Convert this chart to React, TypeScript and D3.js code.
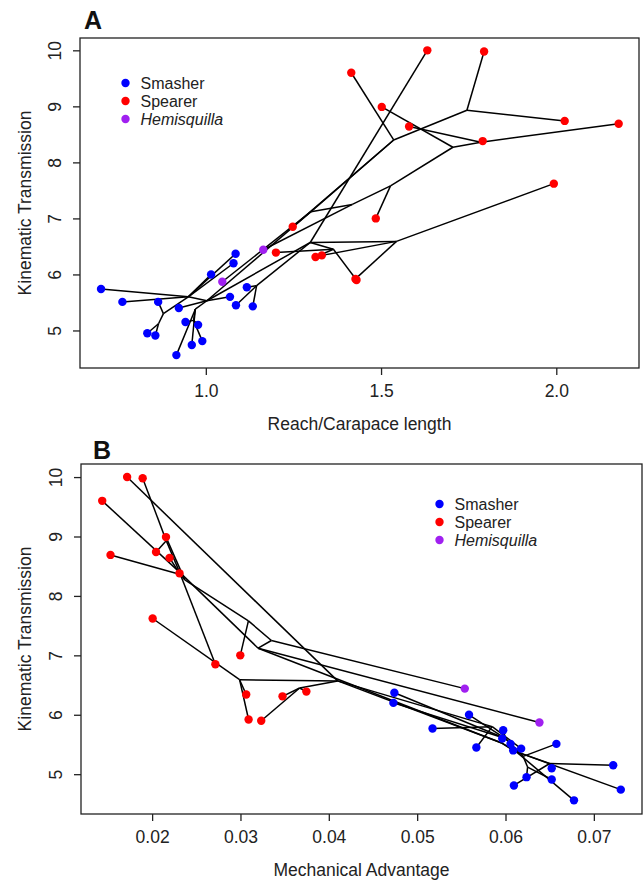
import React, { useEffect, useRef } from "react";
import * as d3 from "d3";

// tip values (reach / mechanical advantage / kinematic transmission)
const spearerReach = [1.632, 1.794, 1.415, 1.502, 2.024, 2.178, 1.58, 1.79, 1.993, 1.485, 1.248, 1.2, 1.331, 1.313, 1.427, 1.43];
const spearerMA = [0.01717, 0.01893, 0.01435, 0.02157, 0.02044, 0.01529, 0.02197, 0.0231, 0.02006, 0.02998, 0.02716, 0.03746, 0.03065, 0.03476, 0.03092, 0.03235];
const spearerKT = [10.0, 9.98, 9.6, 8.99, 8.74, 8.69, 8.64, 8.38, 7.62, 7.0, 6.85, 6.39, 6.34, 6.31, 5.92, 5.9];

const smasherReach = [1.085, 1.079, 1.015, 1.117, 0.701, 1.069, 0.762, 0.864, 1.086, 1.134, 0.923, 0.942, 0.978, 0.833, 0.856, 0.99, 0.96, 0.916];
const smasherMA = [0.04742, 0.04731, 0.05587, 0.05174, 0.05974, 0.05963, 0.06057, 0.06576, 0.0567, 0.06177, 0.06087, 0.07219, 0.06523, 0.06238, 0.06523, 0.06095, 0.07305, 0.06775];
const smasherKT = [6.37, 6.2, 6.0, 5.77, 5.74, 5.6, 5.51, 5.51, 5.45, 5.43, 5.4, 5.15, 5.1, 4.95, 4.91, 4.81, 4.74, 4.56];

const hemiReach = [1.047, 1.164];
const hemiMA = [0.06384, 0.05539];
const hemiKT = [5.87, 6.44];

// ancestral nodes (estimated from where branches meet)
const nodeIds = ["Nb", "Na", "Nd", "Nc", "Ne", "Q", "Q2", "X", "Y", "Z", "SM0", "A1", "A2", "A3", "B1", "C1", "C2"];
const nodeReach = [1.745, 1.536, 1.785, 1.705, 1.527, 1.418, 1.3, 1.298, 1.544, 1.364, 1.003, 0.95, 0.879, 0.865, 1.145, 0.965, 0.97];
const nodeMA = [0.0216, 0.0231, 0.0232, 0.0237, 0.0309, 0.0335, 0.032, 0.041, 0.0299, 0.0367, 0.0595, 0.06, 0.062, 0.0625, 0.0585, 0.065, 0.0612];
const nodeKT = [8.93, 8.4, 8.36, 8.27, 7.58, 7.25, 7.12, 6.57, 6.59, 6.45, 5.53, 5.6, 5.3, 5.12, 5.8, 5.18, 5.38];

const edges = [
  ["Nb", "S2"], ["Nb", "S5"],
  ["Na", "S3"], ["Na", "Nb"], ["Na", "S11"],
  ["Nd", "S6"], ["Nd", "S7"], ["Nd", "S8"],
  ["Nc", "S4"], ["Nc", "Nd"],
  ["Ne", "S10"], ["Ne", "Nc"],
  ["Q", "Ne"], ["Q", "H2"],
  ["Q2", "Q"], ["Q2", "Na"], ["Q2", "H1"], ["Q2", "SM0"],
  ["X", "S1"], ["X", "Y"], ["X", "Z"], ["X", "SM0"], ["X", "B1"],
  ["Y", "S9"], ["Y", "S13"], ["Y", "S15"],
  ["Z", "S12"], ["Z", "S14"], ["Z", "S16"],
  ["SM0", "A1"], ["SM0", "M6"], ["SM0", "M11"], ["SM0", "C2"],
  ["A1", "M1"], ["A1", "M2"], ["A1", "M3"], ["A1", "M5"], ["A1", "M7"], ["A1", "A2"],
  ["A2", "M8"], ["A2", "A3"],
  ["A3", "M14"], ["A3", "M15"],
  ["B1", "M4"], ["B1", "M9"], ["B1", "M10"],
  ["C2", "C1"], ["C2", "M17"], ["C2", "M18"],
  ["C1", "M12"], ["C1", "M13"], ["C1", "M16"],
];

const groups = ["Smasher", "Spearer", "Hemisquilla"];
const colors = { Smasher: "#0000ff", Spearer: "#ff0000", Hemisquilla: "#a020f0" };

const reachDomain = [0.641, 2.236];
const maDomain = [0.01195, 0.07545];
const ktDomain = [4.33, 10.22];
const reachTicks = [1.0, 1.5, 2.0];
const maTicks = [0.02, 0.03, 0.04, 0.05, 0.06, 0.07];
const ktTicks = [5, 6, 7, 8, 9, 10];

type P = { id: string; group: string; reach: number; ma: number; kt: number };

const tips: P[] = [
  ...spearerReach.map((r, i) => ({ id: "S" + (i + 1), group: "Spearer", reach: r, ma: spearerMA[i], kt: spearerKT[i] })),
  ...smasherReach.map((r, i) => ({ id: "M" + (i + 1), group: "Smasher", reach: r, ma: smasherMA[i], kt: smasherKT[i] })),
  ...hemiReach.map((r, i) => ({ id: "H" + (i + 1), group: "Hemisquilla", reach: r, ma: hemiMA[i], kt: hemiKT[i] })),
];
const nodes: P[] = nodeIds.map((id, i) => ({ id, group: "node", reach: nodeReach[i], ma: nodeMA[i], kt: nodeKT[i] }));
const byId = new Map<string, P>();
[...tips, ...nodes].forEach((d) => byId.set(d.id, d));

const FONT = "'Liberation Sans', Arial, Helvetica, sans-serif";

const panels = [
  {
    letter: "A", lx: 84, ly: 29,
    left: 80, right: 639, top: 38, bottom: 368,
    key: "reach", domain: reachDomain, ticks: reachTicks, fmt: d3.format(".1f"),
    xLabel: "Reach/Carapace length", legend: { x: 125.5, y: 83 },
  },
  {
    letter: "B", lx: 93, ly: 459,
    left: 81, right: 642, top: 464, bottom: 814,
    key: "ma", domain: maDomain, ticks: maTicks, fmt: d3.format(".2f"),
    xLabel: "Mechanical Advantage", legend: { x: 439.5, y: 504 },
  },
];

const App = () => {
  const ref = useRef(null);

  useEffect(() => {
    const svg = d3.select(ref.current);
    svg.selectAll("*").remove();

    panels.forEach((p) => {
      const g = svg.append("g");
      const x = d3.scaleLinear().domain(p.domain).range([p.left, p.right]);
      const y = d3.scaleLinear().domain(ktDomain).range([p.bottom, p.top]);
      const xv = (d: P) => x(d[p.key]);
      const yv = (d: P) => y(d.kt);

      g.selectAll("line.edge")
        .data(edges)
        .join("line")
        .attr("class", "edge")
        .attr("x1", (e) => xv(byId.get(e[0])))
        .attr("y1", (e) => yv(byId.get(e[0])))
        .attr("x2", (e) => xv(byId.get(e[1])))
        .attr("y2", (e) => yv(byId.get(e[1])))
        .attr("stroke", "#000")
        .attr("stroke-width", 1.5);

      g.selectAll("circle.tip")
        .data(tips)
        .join("circle")
        .attr("class", "tip")
        .attr("cx", xv)
        .attr("cy", yv)
        .attr("r", 4.2)
        .attr("fill", (d) => colors[d.group]);

      g.append("rect")
        .attr("x", p.left)
        .attr("y", p.top)
        .attr("width", p.right - p.left)
        .attr("height", p.bottom - p.top)
        .attr("fill", "none")
        .attr("stroke", "#222")
        .attr("stroke-width", 1.3);

      const xa = g
        .append("g")
        .attr("transform", `translate(0,${p.bottom})`)
        .call(d3.axisBottom(x).tickValues(p.ticks).tickFormat(p.fmt).tickSize(7).tickPadding(10));
      xa.select(".domain").remove();
      xa.selectAll("line").attr("stroke", "#222").attr("stroke-width", 1.3);
      xa.selectAll("text").attr("font-size", 17.5).attr("font-family", FONT).attr("fill", "#222");

      const ya = g
        .append("g")
        .attr("transform", `translate(${p.left},0)`)
        .call(d3.axisLeft(y).tickValues(ktTicks).tickFormat(d3.format("d")).tickSize(7));
      ya.select(".domain").remove();
      ya.selectAll("line").attr("stroke", "#222").attr("stroke-width", 1.3);
      ya.selectAll("text")
        .attr("x", 0)
        .attr("dy", "0.35em")
        .attr("transform", "translate(-25,0) rotate(-90)")
        .attr("text-anchor", "middle")
        .attr("font-size", 17.5)
        .attr("font-family", FONT)
        .attr("fill", "#222");

      g.append("text")
        .attr("x", (p.left + p.right) / 2)
        .attr("y", p.bottom + 62)
        .attr("text-anchor", "middle")
        .attr("font-size", 17.5)
        .attr("font-family", FONT)
        .attr("fill", "#222")
        .text(p.xLabel);

      const cy = (p.top + p.bottom) / 2;
      g.append("text")
        .attr("transform", `translate(25,${cy}) rotate(-90)`)
        .attr("dy", "0.35em")
        .attr("text-anchor", "middle")
        .attr("font-size", 17.5)
        .attr("font-family", FONT)
        .attr("fill", "#222")
        .text("Kinematic Transmission");

      g.append("text")
        .attr("x", p.lx)
        .attr("y", p.ly)
        .attr("font-size", 25)
        .attr("font-weight", "bold")
        .attr("font-family", FONT)
        .attr("fill", "#111")
        .text(p.letter);

      const lg = g.append("g").attr("transform", `translate(${p.legend.x},${p.legend.y})`);
      groups.forEach((name, i) => {
        lg.append("circle").attr("cx", 0).attr("cy", i * 18).attr("r", 4.2).attr("fill", colors[name]);
        lg.append("text")
          .attr("x", 15)
          .attr("y", i * 18)
          .attr("dy", "0.36em")
          .attr("font-size", 16)
          .attr("font-family", FONT)
          .attr("font-style", name === "Hemisquilla" ? "italic" : "normal")
          .attr("fill", "#222")
          .text(name);
      });
    });
  }, []);

  return (
    <div style={{ position: "absolute", left: 0, top: 0 }}>
      <svg ref={ref} width={643} height={882} style={{ display: "block", background: "#fff" }} />
    </div>
  );
};

export default App;
